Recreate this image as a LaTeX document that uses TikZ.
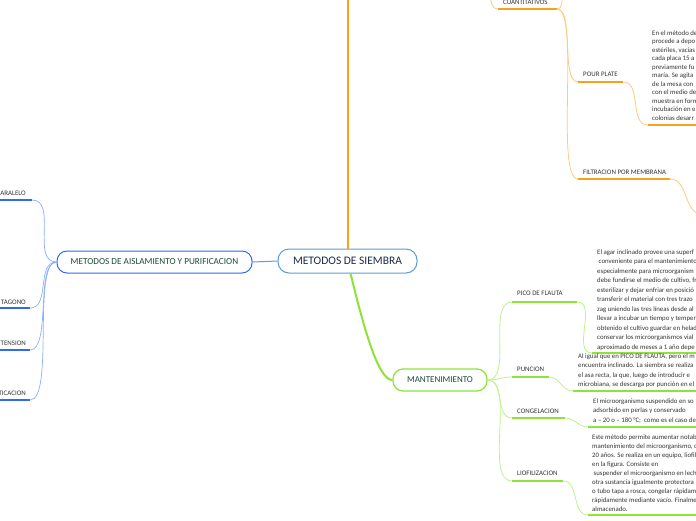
\documentclass[tikz,border=0pt]{standalone}
\usepackage{fontspec}
\setmainfont{Carlito}
\definecolor{orD}{HTML}{F5A21C}
\definecolor{orL}{HTML}{FCCB7E}
\definecolor{grD}{HTML}{8DE339}
\definecolor{grL}{HTML}{BDF28C}
\definecolor{blD}{HTML}{2F6BF2}
\definecolor{blL}{HTML}{8AAEFF}
\definecolor{rootB}{HTML}{5B9BD5}
\definecolor{rootT}{HTML}{1B2A4A}
\definecolor{topT}{HTML}{1E4A36}
\definecolor{txt}{HTML}{333333}
\begin{document}
\begin{tikzpicture}[x=1pt,y=-1pt,
 topic/.style={draw, fill=white, rounded corners=10pt, line width=1pt, inner sep=0pt, minimum height=22pt},
 lbl/.style={font=\fontsize{6.9}{8}\selectfont, text=txt, inner sep=0pt},
 blk/.style={font=\fontsize{6.8}{9}\selectfont, text=txt, inner sep=0pt, anchor=base west},
 ulO/.style={draw=orD, line width=1.6pt},
 ulG/.style={draw=grD, line width=1.6pt},
 ulB/.style={draw=blD, line width=1.4pt},
 cO/.style={draw=orL, line width=0.8pt},
 cG/.style={draw=grL, line width=0.8pt},
 cB/.style={draw=blL, line width=0.7pt},
]
\useasboundingbox (0,0) rectangle (696,520);
\clip (0,0) rectangle (696,520);

% main topics
\node[topic, draw=rootB, minimum width=139pt, minimum height=24pt, rounded corners=11pt, font=\fontsize{11.5}{13}\selectfont, text=rootT] (root) at (347.5,261) {METODOS DE SIEMBRA};
\node[topic, draw=blD, minimum width=195pt, font=\fontsize{9.2}{11}\selectfont, text=topT] (ais) at (154.5,262) {METODOS DE AISLAMIENTO Y PURIFICACION};
\node[topic, draw=grD, line width=1.2pt, minimum width=94pt, font=\fontsize{9}{11}\selectfont, text=topT] (mant) at (440,380) {MANTENIMIENTO};

% root connectors
\coordinate (oTop) at (347.5,-4);
\draw[draw=orD, line width=2pt] (root.north) -- (oTop);
\draw[draw=grD, line width=2pt] ([xshift=3pt]root.south) .. controls +(14,57) and +(-14,0) .. (mant.west);
\draw[draw=blL!60!blD, line width=1pt] (root.west) -- (ais.east);

% left (blue) children
\node[lbl, anchor=base east] (par) at (26,195.5) {ARALELO};
\coordinate (parR) at (32,200); \coordinate (parL) at (-4,200);
\draw[ulB] (parL) -- (parR);
\draw[cB] (ais.west) to[out=180,in=0] (parR);

\node[lbl, anchor=base east] (pen) at (26,304.5) {TAGONO};
\coordinate (penR) at (30,308); \coordinate (penL) at (-4,308);
\draw[ulB] (penL) -- (penR);
\draw[cB] (ais.west) to[out=180,in=0] (penR);

\node[lbl, anchor=base east] (ext) at (26,345.5) {TENSION};
\coordinate (extR) at (30,350); \coordinate (extL) at (-4,350);
\draw[ulB] (extL) -- (extR);
\draw[cB] (ais.west) to[out=180,in=0,looseness=0.6] (extR);

\node[lbl, anchor=base east] (ver) at (26,395.5) {TICACION};
\coordinate (verR) at (30,400); \coordinate (verL) at (-4,400);
\draw[ulB] (verL) -- (verR);
\draw[cB] (ais.west) to[out=180,in=0,looseness=0.45] (verR);

% top (orange) branch
\node[lbl, anchor=base west] (cua) at (503,4.5) {CUANTITATIVOS};
\coordinate (cuaL) at (498,9); \coordinate (cuaR) at (557,9);
\coordinate (cuaIn) at (489,-6); \coordinate (cuaUp) at (562,-6);
\draw[ulO] (cuaL) -- (cuaR);
\draw[cO] (cuaIn) to[out=-70,in=180] (cuaL);
\draw[cO] (cuaR) to[out=0,in=-90] (cuaUp);

\node[lbl, anchor=base west] (pour) at (583,76.5) {POUR PLATE};
\coordinate (pourL) at (578,82); \coordinate (pourR) at (623,82);
\coordinate (pourBL) at (648,125); \coordinate (pourBR) at (700,125);
\draw[cO] (cuaR) to[out=0,in=180,looseness=0.6] (pourL);
\draw[ulO] (pourL) -- (pourR);
\draw[cO] (pourR) to[out=0,in=180] (pourBL);
\draw[ulO] (pourBL) -- (pourBR);
\foreach \t [count=\i] in {{En el método de},{procede a depo},{estériles, vacías},{cada placa 15 a},{previamente fu},{maría. Se agita},{de la mesa con},{con el medio de},{muestra en form},{incubación en e},{colonias desarr}}
  \node[blk] (bpour\i) at (652,{26.5+8.5*\i}) {\t};

\node[lbl, anchor=base west] (fil) at (583,174.5) {FILTRACION POR MEMBRANA};
\coordinate (filL) at (578,179); \coordinate (filR) at (670,179);
\coordinate (filN) at (702,214);
\draw[cO] (cuaR) to[out=0,in=180,looseness=0.35] (filL);
\draw[ulO] (filL) -- (filR);
\draw[cO] (filR) to[out=0,in=180] (filN);

% bottom (green) branch
\node[lbl, anchor=base west] (pic) at (517,295.5) {PICO DE FLAUTA};
\coordinate (picL) at (512,302); \coordinate (picR) at (577,302);
\coordinate (picBL) at (592,353); \coordinate (picBR) at (700,353);
\draw[cG] (mant.east) to[out=0,in=180,looseness=0.8] (picL);
\draw[ulG] (picL) -- (picR);
\draw[cG] (picR) to[out=0,in=180] (picBL);
\draw[ulG] (picBL) -- (picBR);
\foreach \t [count=\i] in {{El agar inclinado provee una superf},{\hspace{1.5pt}conveniente para el mantenimiento},{especialmente para microorganism},{debe fundirse el medio de cultivo, fr},{esterilizar y dejar enfriar en posició},{transferir el material con tres trazo},{zag uniendo las tres líneas desde al},{llevar a incubar un tiempo y temper},{obtenido el cultivo guardar en helad},{conservar los microorganismos vial},{aproximado de meses a 1 año depe}}
  \node[blk] (bpic\i) at (597,{244.5+9.5*\i}) {\t};

\node[lbl, anchor=base west] (pun) at (517,371.5) {PUNCION};
\coordinate (punL) at (512,377); \coordinate (punR) at (549,377);
\coordinate (punBL) at (573,391); \coordinate (punBR) at (700,391);
\draw[cG] (mant.east) to[out=0,in=180] (punL);
\draw[ulG] (punL) -- (punR);
\draw[cG] (punR) to[out=0,in=180] (punBL);
\draw[ulG] (punBL) -- (punBR);
\foreach \t [count=\i] in {{Al igual que en PICO DE FLAUTA, pero el m},{encuentra inclinado. La siembra se realiza},{el asa recta, la que, luego de introducir e},{microbiana, se descarga por punción en el}}
  \node[blk] (bpun\i) at (578,{348.5+9.5*\i}) {\t};

\node[lbl, anchor=base west] (con) at (517,413.5) {CONGELACION};
\coordinate (conL) at (512,418); \coordinate (conR) at (565,418);
\coordinate (conBL) at (588,427); \coordinate (conBR) at (700,427);
\draw[cG] (mant.east) to[out=0,in=180] (conL);
\draw[ulG] (conL) -- (conR);
\draw[cG] (conR) to[out=0,in=180] (conBL);
\draw[ulG] (conBL) -- (conBR);
\foreach \t [count=\i] in {{El microorganismo suspendido en so},{adsorbido en perlas y conservado},{a – 20 o – 180 °C;\ \ como es el caso de}}
  \node[blk] (bcon\i) at (593,{393.5+9.5*\i}) {\t};

\node[lbl, anchor=base west] (lio) at (517,475.5) {LIOFILIZACION};
\coordinate (lioL) at (512,481); \coordinate (lioR) at (563,481);
\coordinate (lioBL) at (588,515); \coordinate (lioBR) at (700,515);
\draw[cG] (mant.east) to[out=0,in=180,looseness=0.7] (lioL);
\draw[ulG] (lioL) -- (lioR);
\draw[cG] (lioR) to[out=0,in=180] (lioBL);
\draw[ulG] (lioBL) -- (lioBR);
\foreach \t [count=\i] in {{Este método permite aumentar notab},{mantenimiento del microorganismo, c},{20 años. Se realiza en un equipo, liofil},{en la figura. Consiste en},{\hspace{1.5pt}suspender el microorganismo en lech},{otra sustancia igualmente protectora},{o tubo tapa a rosca, congelar rápidam},{rápidamente mediante vacío. Finalme},{almacenado.}}
  \node[blk] (blio\i) at (592,{430+9*\i}) {\t};
\end{tikzpicture}
\end{document}
